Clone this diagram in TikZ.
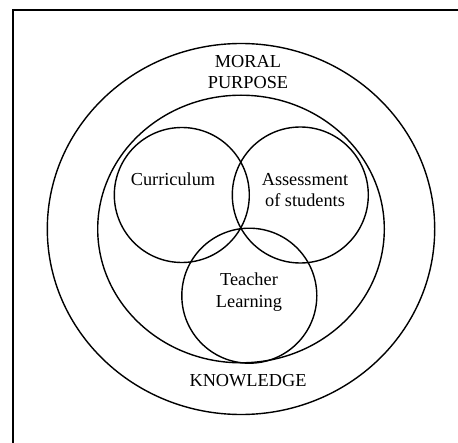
\documentclass[tikz,border=0pt]{standalone}
\usepackage{fontspec}
\setmainfont{Liberation Serif}
\begin{document}
\begin{tikzpicture}[x=1bp,y=-1bp,line width=1.4bp,
  lbl/.style={font=\fontsize{18.3bp}{21.5bp}\selectfont, align=center, inner sep=0pt, anchor=base}]
  \useasboundingbox (0,0) rectangle (458,443);
  % frame, cut off at right and bottom
  \draw [line width=1.6bp] (13,443) -- (13,10) -- (458,10);
  % rings
  \draw (241,229) ellipse [x radius=193.7, y radius=185.5];
  \draw (241,229) ellipse [x radius=143.3, y radius=133.8];
  \draw (181.8,195) circle [radius=67.5];
  \draw (300.3,195) circle [radius=68];
  \draw (249.3,295.7) circle [radius=67.5];
  % labels (base = last line)
  \node [lbl] (mp) at (248,88.7) {MORAL\\PURPOSE};
  \node [lbl] (cu) at (173,185.7) {Curriculum};
  \node [lbl] (as) at (305,207) {Assessment\\of students};
  \node [lbl] (tl) at (249,307.3) {Teacher\\Learning};
  \node [lbl] (kn) at (248,386.7) {KNOWLEDGE};
\end{tikzpicture}
\end{document}
